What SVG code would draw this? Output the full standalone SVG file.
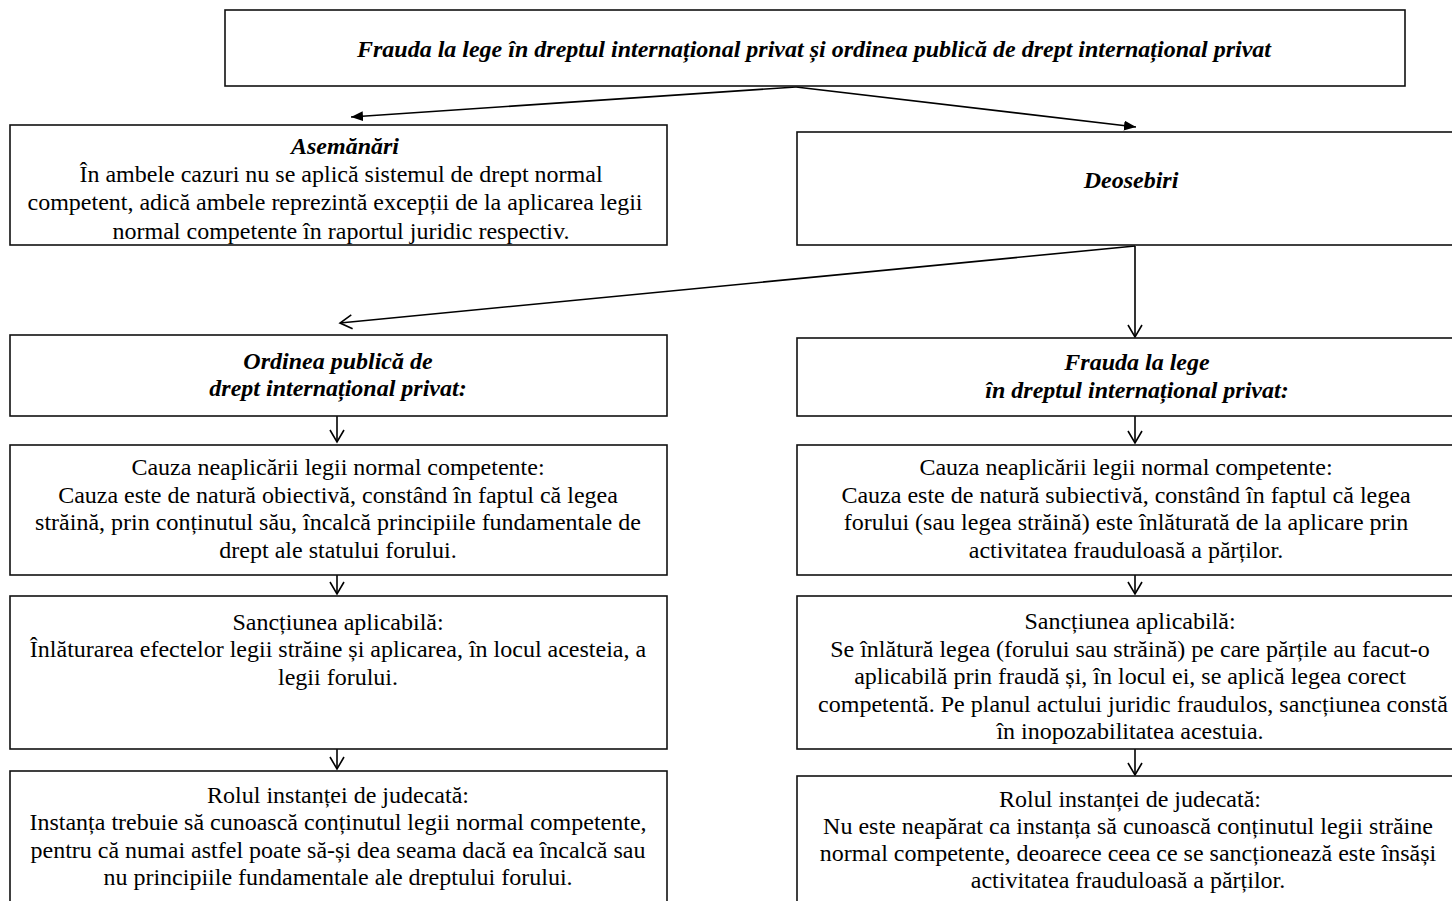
<svg xmlns="http://www.w3.org/2000/svg" width="1452" height="901" viewBox="0 0 1452 901">
<style>
.box{fill:#fff;stroke:#111;stroke-width:1.6}
.t{font-family:"Liberation Serif","Times New Roman",serif;font-size:24px;fill:#000;text-anchor:middle}
.h{font-family:"Liberation Serif","Times New Roman",serif;font-size:24px;font-weight:bold;font-style:italic;fill:#000;text-anchor:middle}
.c{fill:none;stroke:#000;stroke-width:1.6}
</style>
<defs>
<marker id="fa" markerUnits="userSpaceOnUse" markerWidth="14" markerHeight="12" refX="12" refY="5" orient="auto">
<path d="M0,0 L12,5 L0,10 Z" fill="#000"/>
</marker>
<marker id="oa" markerUnits="userSpaceOnUse" markerWidth="16" markerHeight="18" refX="13" refY="8" orient="auto">
<path d="M1,1 L13,8 L1,15" fill="none" stroke="#000" stroke-width="1.6"/>
</marker>
<clipPath id="clipA"><rect x="10" y="125" width="657" height="120"/></clipPath>
</defs>
<rect width="1452" height="901" fill="#fff"/>

<g id="connectors">
<line class="c" x1="796" y1="87" x2="351" y2="117" marker-end="url(#fa)"/>
<line class="c" x1="796" y1="87" x2="1136" y2="127" marker-end="url(#fa)"/>
<line class="c" x1="1135" y1="246" x2="340" y2="323" marker-end="url(#oa)"/>
<line class="c" x1="1135" y1="246" x2="1135" y2="337" marker-end="url(#oa)"/>
<line class="c" x1="337" y1="416" x2="337" y2="442" marker-end="url(#oa)"/>
<line class="c" x1="337" y1="575" x2="337" y2="594" marker-end="url(#oa)"/>
<line class="c" x1="337" y1="749" x2="337" y2="769" marker-end="url(#oa)"/>
<line class="c" x1="1135" y1="416" x2="1135" y2="443" marker-end="url(#oa)"/>
<line class="c" x1="1135" y1="575" x2="1135" y2="594" marker-end="url(#oa)"/>
<line class="c" x1="1135" y1="749" x2="1135" y2="775" marker-end="url(#oa)"/>
</g>

<g id="title">
<rect class="box" x="225" y="10" width="1180" height="76"/>
<text class="h" x="814" y="57">Frauda la lege în dreptul internațional privat și ordinea publică de drept internațional privat</text>
</g>

<g id="asemanari">
<g clip-path="url(#clipA)">
<rect x="10" y="125" width="657" height="120" fill="#fff"/>
<text class="h" x="345" y="154">Asemănări</text>
<text class="t" x="341" y="182">În ambele cazuri nu se aplică sistemul de drept normal</text>
<text class="t" x="335" y="210">competent, adică ambele reprezintă excepții de la aplicarea legii</text>
<text class="t" x="341" y="239">normal competente în raportul juridic respectiv.</text>
</g>
<rect class="box" x="10" y="125" width="657" height="120" style="fill:none"/>
</g>

<g id="deosebiri">
<rect class="box" x="797" y="132" width="670" height="113"/>
<text class="h" x="1131" y="188">Deosebiri</text>
</g>

<g id="ordinea">
<rect class="box" x="10" y="335" width="657" height="81"/>
<text class="h" x="338" y="369">Ordinea publică de</text>
<text class="h" x="338" y="396">drept internațional privat:</text>
</g>

<g id="frauda">
<rect class="box" x="797" y="338" width="670" height="78"/>
<text class="h" x="1137" y="370">Frauda la lege</text>
<text class="h" x="1137" y="398">în dreptul internațional privat:</text>
</g>

<g id="cauza-stanga">
<rect class="box" x="10" y="445" width="657" height="130"/>
<text class="t" x="338" y="475">Cauza neaplicării legii normal competente:</text>
<text class="t" x="338" y="503">Cauza este de natură obiectivă, constând în faptul că legea</text>
<text class="t" x="338" y="530">străină, prin conținutul său, încalcă principiile fundamentale de</text>
<text class="t" x="338" y="558">drept ale statului forului.</text>
</g>

<g id="cauza-dreapta">
<rect class="box" x="797" y="445" width="670" height="130"/>
<text class="t" x="1126" y="475">Cauza neaplicării legii normal competente:</text>
<text class="t" x="1126" y="503">Cauza este de natură subiectivă, constând în faptul că legea</text>
<text class="t" x="1126" y="530">forului (sau legea străină) este înlăturată de la aplicare prin</text>
<text class="t" x="1126" y="558">activitatea frauduloasă a părților.</text>
</g>

<g id="sanctiune-stanga">
<rect class="box" x="10" y="596" width="657" height="153"/>
<text class="t" x="338" y="630">Sancțiunea aplicabilă:</text>
<text class="t" x="338" y="657">Înlăturarea efectelor legii străine și aplicarea, în locul acesteia, a</text>
<text class="t" x="338" y="685">legii forului.</text>
</g>

<g id="sanctiune-dreapta">
<rect class="box" x="797" y="596" width="670" height="153"/>
<text class="t" x="1130" y="629">Sancțiunea aplicabilă:</text>
<text class="t" x="1130" y="657">Se înlătură legea (forului sau străină) pe care părțile au facut-o</text>
<text class="t" x="1130" y="684">aplicabilă prin fraudă și, în locul ei, se aplică legea corect</text>
<text class="t" x="1133" y="712">competentă. Pe planul actului juridic fraudulos, sancțiunea constă</text>
<text class="t" x="1130" y="739">în inopozabilitatea acestuia.</text>
</g>

<g id="rolul-stanga">
<rect class="box" x="10" y="771" width="657" height="150"/>
<text class="t" x="338" y="803">Rolul instanței de judecată:</text>
<text class="t" x="338" y="830">Instanța trebuie să cunoască conținutul legii normal competente,</text>
<text class="t" x="338" y="858">pentru că numai astfel poate să-și dea seama dacă ea încalcă sau</text>
<text class="t" x="338" y="885">nu principiile fundamentale ale dreptului forului.</text>
</g>

<g id="rolul-dreapta">
<rect class="box" x="797" y="776" width="670" height="145"/>
<text class="t" x="1130" y="807">Rolul instanței de judecată:</text>
<text class="t" x="1128" y="834">Nu este neapărat ca instanța să cunoască conținutul legii străine</text>
<text class="t" x="1128" y="861">normal competente, deoarece ceea ce se sancționează este însăși</text>
<text class="t" x="1128" y="888">activitatea frauduloasă a părților.</text>
</g>
</svg>
